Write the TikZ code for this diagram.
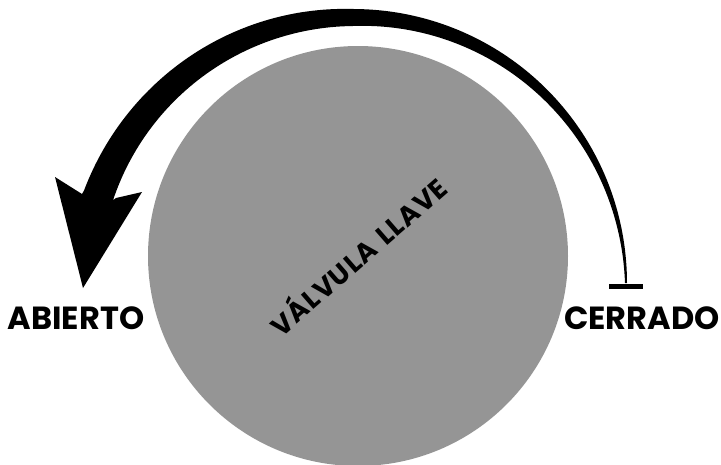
\documentclass[tikz,border=0pt]{standalone}
\usepackage{fontspec}
\setmainfont{Poppins}
\definecolor{valvegray}{RGB}{149,149,149}
\begin{document}
\begin{tikzpicture}[x=1pt,y=-1pt,
  declare function={Ro(\t)=274+10*max(0,(\t-90)/68);
                    Wd(\t)=2+15*min(\t,90)/90+13*max(0,\t-90)/68;
                    Ri(\t)=Ro(\t)-Wd(\t);},
  lbl/.style={inner sep=0pt, anchor=base, font=\fontsize{32}{32}\selectfont\bfseries},
  vlbl/.style={inner sep=0pt, font=\fontsize{27}{27}\selectfont\bfseries\addfontfeature{LetterSpace=4}, rotate=41}]
\useasboundingbox (0,0) rectangle (721,464);
\clip (0,0) rectangle (721,464);
\fill[valvegray] (358,256) circle[radius=210];
\node[vlbl] (valvula) at (357,255) {VÁLVULA\hspace{9pt}LLAVE};
\fill[black] plot[domain=0:161,samples=140,variable=\t] ({353+Ro(\t)*cos(\t)},{283-Ro(\t)*sin(\t)})
  -- (82,194) -- (55,177) -- (83,288) -- (142,192) -- (116,198)
  -- plot[domain=161:0,samples=140,variable=\t] ({353+Ri(\t)*cos(\t)},{283-Ri(\t)*sin(\t)}) -- cycle;
\fill[black] (609,284) rectangle (643,289);
\node[lbl] (abierto) at (76,329) {ABIERTO};
\node[lbl] (cerrado) at (642,329) {CERRADO};
\end{tikzpicture}
\end{document}
